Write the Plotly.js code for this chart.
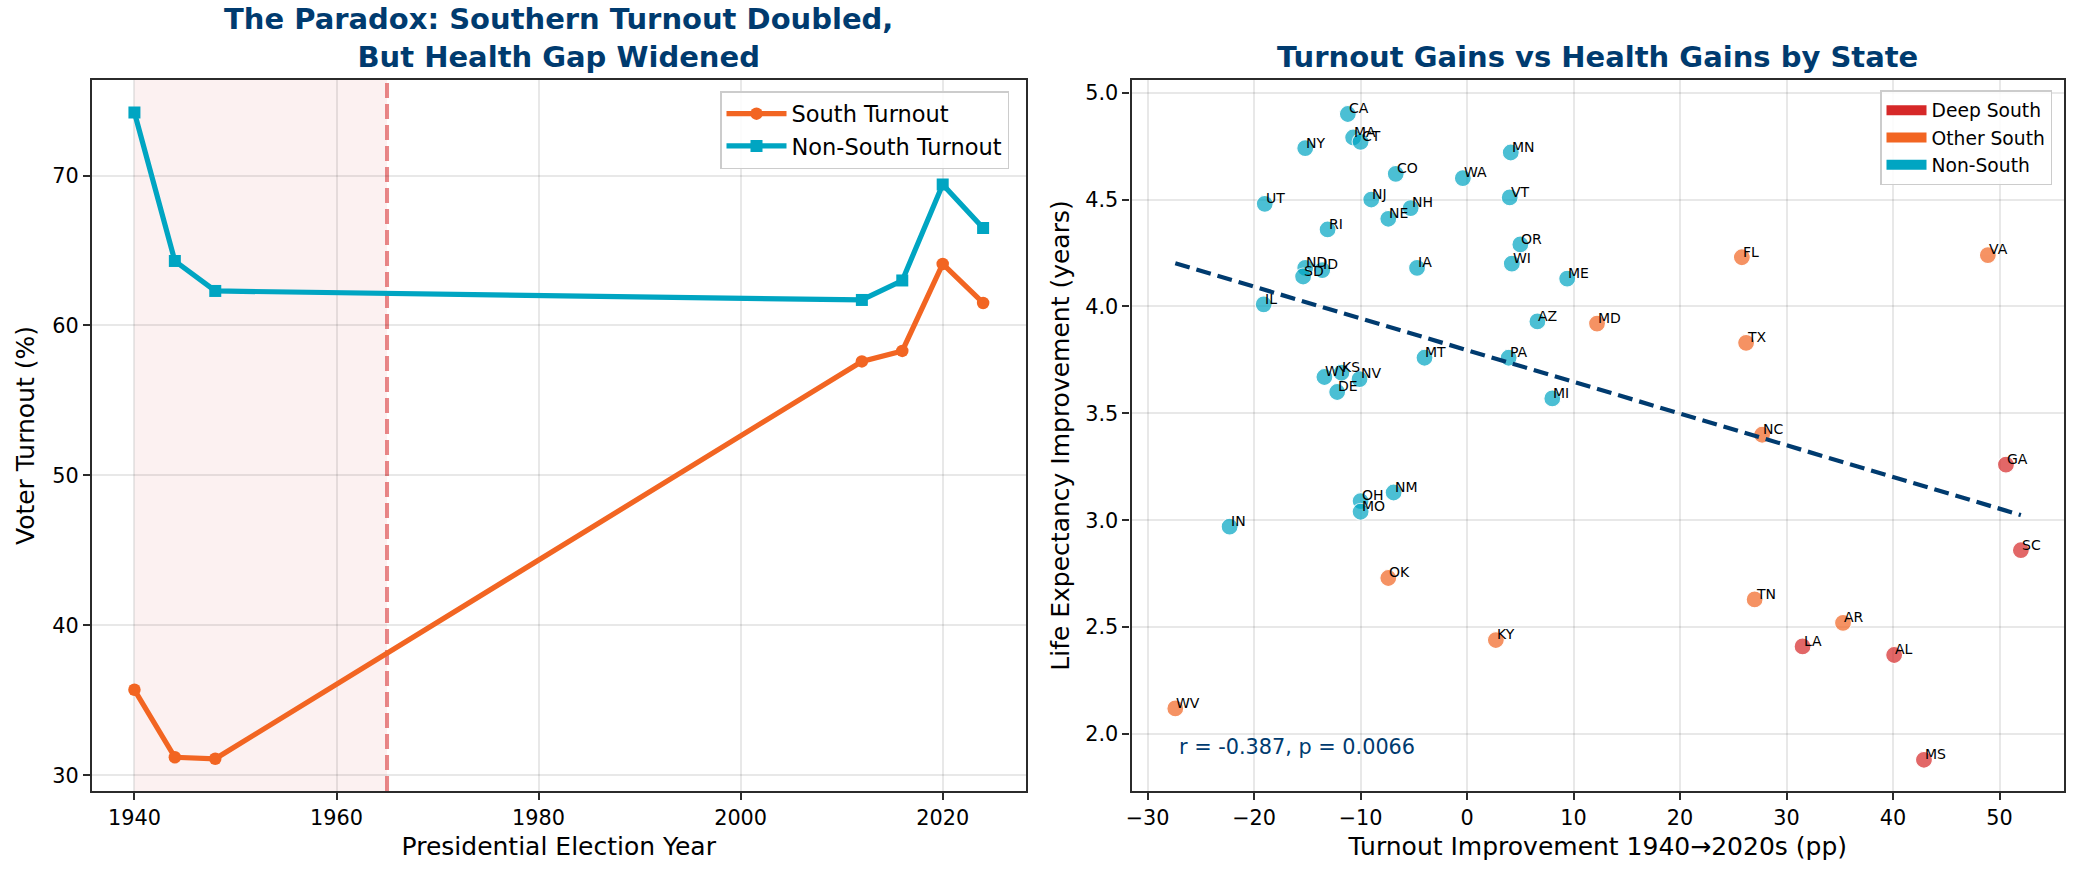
<!DOCTYPE html>
<html>
<head>
<meta charset="utf-8">
<script src="https://cdn.plot.ly/plotly-3.0.1.min.js"></script>
<style>
  html, body { margin: 0; padding: 0; background: #ffffff; }
  #chart { width: 2077px; height: 876px; }
</style>
</head>
<body>
<div id="chart"></div>
<script>
// ---- Presidential turnout, South vs rest of the country ----
const electionYears = [1940, 1944, 1948, 2012, 2016, 2020, 2024];
const southTurnout = [35.7, 31.2, 31.1, 57.6, 58.3, 64.1, 61.5];
const nonSouthTurnout = [74.2, 64.3, 62.3, 61.7, 63.0, 69.4, 66.5];

// Jim Crow era shading and Voting Rights Act marker
const jimCrowStart = 1940;
const votingRightsActYear = 1965;

// ---- State level gains ----
const stateCodes = [
  'CA','MA','CT','NY','MN','CO','WA','UT','NJ','VT','NH','NE','RI','OR','ND','ID','SD',
  'IA','WI','ME','IL','AZ','MT','PA','WY','KS','NV','DE','MI','NM','OH','MO','IN',
  'MD','FL','VA','TX','NC','OK','KY','WV','TN','AR',
  'GA','SC','LA','AL','MS'
];
const turnoutGain = [
  -11.2,-10.7,-10.0,-15.2,4.1,-6.7,-0.4,-19.0,-9.0,4.0,-5.3,-7.4,-13.1,5.0,-15.2,-13.6,-15.4,
  -4.7,4.2,9.4,-19.1,6.6,-4.0,3.9,-13.4,-11.8,-10.1,-12.2,8.0,-6.9,-10.0,-10.0,-22.3,
  12.2,25.8,48.9,26.2,27.7,-7.4,2.7,-27.4,27.0,35.3,
  50.6,52.0,31.5,40.1,42.9
];
const lifeGain = [
  4.90,4.79,4.77,4.74,4.72,4.62,4.60,4.48,4.50,4.51,4.46,4.41,4.36,4.29,4.18,4.17,4.14,
  4.18,4.20,4.13,4.01,3.93,3.76,3.76,3.67,3.69,3.66,3.60,3.57,3.13,3.09,3.04,2.97,
  3.92,4.23,4.24,3.83,3.40,2.73,2.44,2.12,2.63,2.52,
  3.26,2.86,2.41,2.37,1.88
];
const stateRegion = [
  'Non-South','Non-South','Non-South','Non-South','Non-South','Non-South','Non-South','Non-South','Non-South',
  'Non-South','Non-South','Non-South','Non-South','Non-South','Non-South','Non-South','Non-South',
  'Non-South','Non-South','Non-South','Non-South','Non-South','Non-South','Non-South','Non-South',
  'Non-South','Non-South','Non-South','Non-South','Non-South','Non-South','Non-South','Non-South',
  'Other South','Other South','Other South','Other South','Other South','Other South','Other South',
  'Other South','Other South','Other South',
  'Deep South','Deep South','Deep South','Deep South','Deep South'
];
const regionNames = ['Deep South', 'Other South', 'Non-South'];
const correlationNote = 'r = -0.387, p = 0.0066';

// ---- styling ----
const FONT = 'DejaVu Sans, Verdana, sans-serif';
const NAVY = '#003B6F';
const SOUTH_ORANGE = '#F26522';
const NONSOUTH_CYAN = '#00A5C2';
const regionColors = { 'Deep South': '#D62828', 'Other South': '#F26522', 'Non-South': '#00A5C2' };
const SPINE = '#2b2b2b';
const GRID = 'rgba(0,0,0,0.09)';

// plot-area geometry (margins) used to place paper-referenced titles
const W = 2077, H = 876;
const M = { l: 92, r: 13, t: 80, b: 85 };
const paperX = px => (px - M.l) / (W - M.l - M.r);
const paperY = py => (H - M.b - py) / (H - M.t - M.b);

// least-squares fit of life gain on turnout gain
function linearFit(xs, ys) {
  const n = xs.length;
  const mx = xs.reduce((a, b) => a + b, 0) / n;
  const my = ys.reduce((a, b) => a + b, 0) / n;
  let sxy = 0, sxx = 0;
  for (let i = 0; i < n; i++) { sxy += (xs[i] - mx) * (ys[i] - my); sxx += (xs[i] - mx) ** 2; }
  const slope = sxy / sxx;
  return { slope, intercept: my - slope * mx };
}
const fit = linearFit(turnoutGain, lifeGain);
const fitX = [Math.min(...turnoutGain), Math.max(...turnoutGain)];
const fitY = fitX.map(x => fit.intercept + fit.slope * x);

const traces = [];

// left panel lines
traces.push({
  x: electionYears, y: southTurnout, name: 'South Turnout',
  type: 'scatter', mode: 'lines+markers', xaxis: 'x', yaxis: 'y',
  line: { color: SOUTH_ORANGE, width: 5.2 },
  marker: { symbol: 'circle', size: 12.5, color: SOUTH_ORANGE },
  legend: 'legend'
});
traces.push({
  x: electionYears, y: nonSouthTurnout, name: 'Non-South Turnout',
  type: 'scatter', mode: 'lines+markers', xaxis: 'x', yaxis: 'y',
  line: { color: NONSOUTH_CYAN, width: 5.2 },
  marker: { symbol: 'square', size: 12, color: NONSOUTH_CYAN },
  legend: 'legend'
});

// right panel: one scatter trace per region
regionNames.forEach(region => {
  const idx = stateRegion.map((r, i) => r === region ? i : -1).filter(i => i >= 0);
  traces.push({
    x: idx.map(i => turnoutGain[i]), y: idx.map(i => lifeGain[i]),
    text: idx.map(i => stateCodes[i]),
    type: 'scatter', mode: 'markers', xaxis: 'x2', yaxis: 'y2',
    showlegend: false, hoverinfo: 'text',
    marker: { size: 17, color: regionColors[region], opacity: 0.7, line: { color: '#ffffff', width: 1.2 } }
  });
});

// trend line
traces.push({
  x: fitX, y: fitY, type: 'scatter', mode: 'lines', xaxis: 'x2', yaxis: 'y2',
  showlegend: false, hoverinfo: 'skip',
  line: { color: NAVY, width: 4.2, dash: '15px,7px' }
});

// legend entries for regions (solid swatches)
regionNames.forEach(region => {
  traces.push({
    x: [null], y: [null], name: region, type: 'scatter', mode: 'lines',
    xaxis: 'x2', yaxis: 'y2', legend: 'legend2',
    line: { color: regionColors[region], width: 14 }
  });
});

// state code labels, baseline-left at each point
const stateLabels = stateCodes.map((code, i) => ({
  x: turnoutGain[i], y: lifeGain[i], xref: 'x2', yref: 'y2', text: code,
  showarrow: false, xanchor: 'left', yanchor: 'bottom', xshift: -1, yshift: -4.3,
  font: { family: FONT, size: 14, color: '#000000' }
}));

const baseAxis = {
  showline: true, mirror: true, linecolor: SPINE, linewidth: 2.4,
  ticks: 'outside', ticklen: 7, tickwidth: 2, tickcolor: SPINE,
  showgrid: true, gridcolor: GRID, gridwidth: 1.6,
  zeroline: false, tickfont: { family: FONT, size: 20.8, color: '#000000' }
};

const layout = {
  width: W, height: H,
  margin: M,
  paper_bgcolor: '#ffffff', plot_bgcolor: '#ffffff',
  font: { family: FONT, color: '#000000' },
  xaxis: Object.assign({}, baseAxis, {
    domain: [0, 0.4734], range: [1935.8, 2028.2],
    tickmode: 'array', tickvals: [1940, 1960, 1980, 2000, 2020],
    title: { text: 'Presidential Election Year', font: { family: FONT, size: 25, color: '#000000' }, standoff: 8 },
    anchor: 'y'
  }),
  yaxis: Object.assign({}, baseAxis, {
    domain: [0, 1], range: [28.95, 76.37],
    tickmode: 'array', tickvals: [30, 40, 50, 60, 70],
    title: { text: 'Voter Turnout (%)', font: { family: FONT, size: 25, color: '#000000' }, standoff: 10 },
    anchor: 'x'
  }),
  xaxis2: Object.assign({}, baseAxis, {
    domain: [0.5272, 1], range: [-31.5, 56.05],
    tickmode: 'array', tickvals: [-30, -20, -10, 0, 10, 20, 30, 40, 50],
    title: { text: 'Turnout Improvement 1940→2020s (pp)', font: { family: FONT, size: 25, color: '#000000' }, standoff: 8 },
    anchor: 'y2'
  }),
  yaxis2: Object.assign({}, baseAxis, {
    domain: [0, 1], range: [1.734, 5.059],
    tickmode: 'array', tickvals: [2.0, 2.5, 3.0, 3.5, 4.0, 4.5, 5.0], tickformat: '.1f',
    title: { text: 'Life Expectancy Improvement (years)', font: { family: FONT, size: 25, color: '#000000' }, standoff: 8 },
    anchor: 'x2'
  }),
  legend: {
    x: paperX(1009), xanchor: 'right', y: paperY(91), yanchor: 'top',
    bgcolor: 'rgba(255,255,255,0.85)', bordercolor: '#cccccc', borderwidth: 1.5,
    font: { family: FONT, size: 22.5, color: '#000000' }, itemwidth: 60,
    tracegroupgap: 0
  },
  legend2: {
    x: paperX(2052), xanchor: 'right', y: paperY(90), yanchor: 'top',
    bgcolor: 'rgba(255,255,255,0.85)', bordercolor: '#cccccc', borderwidth: 1.5,
    font: { family: FONT, size: 18.7, color: '#000000' }, itemwidth: 40,
    tracegroupgap: 0
  },
  shapes: [
    {
      type: 'rect', xref: 'x', yref: 'y domain', x0: jimCrowStart, x1: votingRightsActYear, y0: 0, y1: 1,
      fillcolor: 'rgba(214,39,40,0.065)', line: { width: 0 }, layer: 'below'
    },
    {
      type: 'line', xref: 'x', yref: 'y domain', x0: votingRightsActYear, x1: votingRightsActYear, y0: 0, y1: 1,
      line: { color: 'rgba(214,39,40,0.55)', width: 4, dash: '15px,6px' }, layer: 'below'
    }
  ],
  annotations: [
    {
      text: 'The Paradox: Southern Turnout Doubled,<br>But Health Gap Widened',
      xref: 'paper', yref: 'paper', x: paperX(558.5), y: paperY(76),
      xanchor: 'center', yanchor: 'bottom', showarrow: false,
      font: { family: FONT, size: 29, color: NAVY, weight: 'bold' }
    },
    {
      text: 'Turnout Gains vs Health Gains by State',
      xref: 'paper', yref: 'paper', x: paperX(1597.7), y: paperY(76),
      xanchor: 'center', yanchor: 'bottom', showarrow: false,
      font: { family: FONT, size: 29, color: NAVY, weight: 'bold' }
    },
    {
      text: correlationNote, xref: 'x2 domain', yref: 'y2 domain', x: 0.05, y: 0.05,
      xanchor: 'left', yanchor: 'bottom', xshift: -1, yshift: -5.9, showarrow: false,
      font: { family: FONT, size: 20.8, color: NAVY }
    }
  ].concat(stateLabels)
};

Plotly.newPlot('chart', traces, layout, { displayModeBar: false, responsive: false });
</script>
</body>
</html>
